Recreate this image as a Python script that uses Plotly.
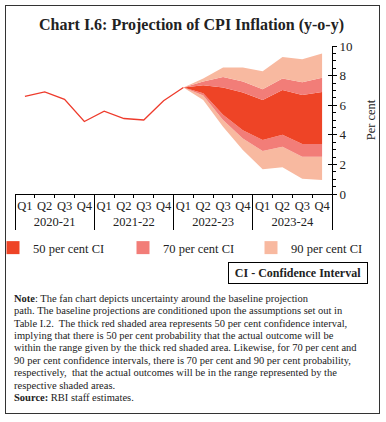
import plotly.graph_objects as go

years = ["2020-21"] * 4 + ["2021-22"] * 4 + ["2022-23"] * 4 + ["2023-24"] * 4
quarters = ["Q1", "Q2", "Q3", "Q4"] * 4

# Actual CPI inflation (y-o-y, per cent), Q1 2020-21 to Q1 2022-23
actual = [6.6, 6.9, 6.4, 4.9, 5.6, 5.1, 5.0, 6.3, 7.2]

# Fan bounds from Q1 2022-23 to Q4 2023-24
upper90 = [7.2, 7.8, 8.55, 8.55, 8.3, 9.25, 9.1, 9.5]
upper70 = [7.2, 7.6, 7.9, 7.6, 7.07, 7.8, 7.55, 7.85]
upper50 = [7.2, 7.35, 7.2, 6.85, 6.35, 7.03, 6.69, 6.9]
lower50 = [7.2, 6.8, 5.35, 4.3, 3.65, 4.0, 3.38, 3.38]
lower70 = [7.2, 6.65, 5.0, 3.75, 2.9, 3.2, 2.52, 2.52]
lower90 = [7.2, 6.35, 4.55, 2.97, 1.67, 1.8, 1.03, 0.95]

y_ticks = [0, 2, 4, 6, 8, 10]
ci_names = ["50 per cent CI", "70 per cent CI", "90 per cent CI"]

note_lines = [
    "<b>Note</b>: The fan chart depicts uncertainty around the baseline projection",
    "path. The baseline projections are conditioned upon the assumptions set out in",
    "Table I.2.  The thick red shaded area represents 50 per cent confidence interval,",
    "implying that there is 50 per cent probability that the actual outcome will be",
    "within the range given by the thick red shaded area. Likewise, for 70 per cent and",
    "90 per cent confidence intervals, there is 70 per cent and 90 per cent probability,",
    "respectively,  that the actual outcomes will be in the range represented by the",
    "respective shaded areas.",
    "<b>Source:</b> RBI staff estimates.",
]

C50 = "#EE4426"
C70 = "#F27D78"
C90 = "#F8B9A0"
LINE = "#EE3B2C"
SERIF = "Liberation Serif, DejaVu Serif, serif"
W, H = 386, 422

# plot area in pixels: x 15..332, y 46..194
def px(x):
    return (x - 15) / 317

def py(y):
    return (194 - y) / 148

xall = [years, quarters]
xa = [years[:9], quarters[:9]]
xf = [years[8:], quarters[8:]]

fig = go.Figure()

fig.add_trace(go.Scatter(x=xall, y=[None] * 16, mode="lines", showlegend=False,
                         hoverinfo="skip"))

def band(vals, color, fill):
    fig.add_trace(go.Scatter(
        x=xf, y=vals, mode="lines", line=dict(width=0, color=color),
        fill=fill, fillcolor=color, showlegend=False, hoverinfo="skip"))

band(lower90, C90, None)
band(lower70, C90, "tonexty")
band(lower50, C70, "tonexty")
band(upper50, C50, "tonexty")
band(upper70, C70, "tonexty")
band(upper90, C90, "tonexty")

fig.add_trace(go.Scatter(x=xa, y=actual, mode="lines",
                         line=dict(color=LINE, width=1.3), showlegend=False))

for name, col, lg in zip(ci_names, [C50, C70, C90], ["legend", "legend2", "legend3"]):
    fig.add_trace(go.Scatter(x=[None], y=[None], mode="markers", name=name, legend=lg,
                             marker=dict(symbol="square", size=13, color=col)))

fig.add_trace(go.Scatter(x=[None], y=[None], yaxis="y2", showlegend=False))

def leg(x):
    return dict(orientation="h", x=px(x), y=py(233), xanchor="left", yanchor="top",
                font=dict(size=12.5, family=SERIF, color="#222"),
                bgcolor="rgba(0,0,0,0)", itemwidth=30)

fig.update_layout(
    width=W, height=H,
    margin=dict(l=15, r=54, t=46, b=228, autoexpand=False),
    paper_bgcolor="white", plot_bgcolor="white",
    font=dict(family=SERIF, size=12, color="#222"),
    showlegend=True,
    legend=leg(-7), legend2=leg(123), legend3=leg(251),
    xaxis=dict(type="multicategory", range=[-0.5, 15.5], showline=True,
               linecolor="black", linewidth=1,
               showgrid=False, zeroline=False, ticks="outside", ticklen=3,
               tickson="boundaries", tickcolor="black", tickangle=0,
               showdividers=True, dividercolor="black", dividerwidth=1,
               tickfont=dict(size=12.5, family=SERIF, color="#222")),
    yaxis=dict(side="right", range=[0, 10], tickvals=y_ticks, showline=True,
               linecolor="black", linewidth=1, ticks="outside", ticklen=4,
               tickcolor="black", showgrid=False, zeroline=False,
               minor=dict(dtick=0.5, ticks="outside", ticklen=2.5, tickcolor="black"),
               tickfont=dict(size=13, family=SERIF, color="#222"),
               title=dict(text="Per cent", font=dict(size=12.5, family=SERIF, color="#222"),
                          standoff=14)),
    yaxis2=dict(overlaying="y", side="right", range=[0, 10], tickvals=y_ticks,
                ticks="inside", ticklen=4, tickcolor="black", showticklabels=False,
                showgrid=False, zeroline=False, showline=False),
)

fig.add_annotation(text="<b>Chart I.6: Projection of CPI Inflation (y-o-y)</b>",
                   xref="paper", yref="paper", x=px(191), y=py(25),
                   xanchor="center", yanchor="middle", showarrow=False,
                   font=dict(size=16, family=SERIF, color="#222"))

fig.add_annotation(text="<b>CI - Confidence Interval</b>", xref="paper", yref="paper",
                   x=px(298), y=py(273), xanchor="center", yanchor="middle",
                   showarrow=False, bordercolor="black", borderwidth=1, borderpad=3,
                   width=132, font=dict(size=12, family=SERIF, color="#222"))

for i, line in enumerate(note_lines):
    fig.add_annotation(text=line, xref="paper", yref="paper", x=px(12),
                       y=py(298.3 + 12.42 * i), xanchor="left", yanchor="middle",
                       align="left", showarrow=False,
                       font=dict(size=10.5, family=SERIF, color="#222"))

# outer frame
fig.add_annotation(text="", xref="paper", yref="paper", x=px(5), y=py(5),
                   xanchor="left", yanchor="top", showarrow=False,
                   width=373, height=407, borderpad=0,
                   bordercolor="#333", borderwidth=1)

fig.write_html("out.html", config={"displayModeBar": False},
               post_script="document.body.style.margin='0';")
